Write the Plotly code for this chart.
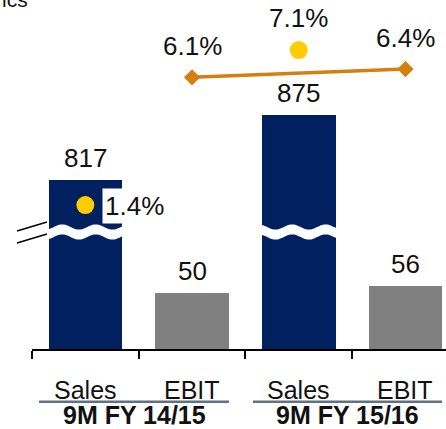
import numpy as np
import plotly.graph_objects as go

# ---- data -------------------------------------------------------------
categories = ["Sales", "EBIT", "Sales", "EBIT"]
periods = ["9M FY 14/15", "9M FY 15/16"]
sales = [817, 875]
ebit = [50, 56]
ebit_margin = [6.1, 6.4]      # % EBIT margin (orange line)
sales_growth = [1.4, 7.1]     # % markers on the sales bars

AXIS_BREAK = 667              # units removed by the broken value axis on sales bars
BREAK_AT = 104                # displayed level of the wavy break

# ---- styling ------------------------------------------------------------
NAVY = "#002060"
GREY = "#808080"
ORANGE = "#D4800F"
YELLOW = "#FFCC00"
RULE = "#5F7282"
INK = "#111111"
FONT = "Liberation Sans, Arial, sans-serif"
FS = 26
FS_AXIS = 25

W, H = 446, 429
ML, MB = 32, 80
PLOT_H = H - MB
PX_PER_UNIT = 1.125           # value axis scale
PX_PER_PCT = 27.2             # percentage axis scale
PCT_ZERO_PX = 243.2           # pixel row of 0 % on the percentage axis
BAR_W = 0.69


def paper_y(py):
    return (PLOT_H - py) / PLOT_H


def paper_x(px):
    return (px - ML) / (W - ML)


x_sales = [0, 2]
x_ebit = [1, 3]
bar_x = [0, 1, 2, 3]
bar_vals = [sales[0], ebit[0], sales[1], ebit[1]]
bar_shown = [sales[0] - AXIS_BREAK, ebit[0], sales[1] - AXIS_BREAK, ebit[1]]
bar_cols = [NAVY, GREY, NAVY, GREY]

fig = go.Figure()

fig.add_trace(go.Bar(
    x=bar_x, y=bar_shown, width=BAR_W,
    marker=dict(color=bar_cols, line=dict(width=0)),
    hoverinfo="skip", showlegend=False,
))

fig.add_trace(go.Scatter(
    x=x_ebit, y=ebit_margin, yaxis="y2", mode="lines+markers",
    line=dict(color=ORANGE, width=3.5),
    marker=dict(symbol="diamond", size=12.5, color=ORANGE),
    hoverinfo="skip", showlegend=False,
))

fig.add_trace(go.Scatter(
    x=x_sales, y=sales_growth, yaxis="y2", mode="markers",
    marker=dict(size=18, color=YELLOW, line=dict(width=0)),
    hoverinfo="skip", showlegend=False,
))

annotations = []
font = dict(family=FONT, size=FS, color=INK)
axis_font = dict(family=FONT, size=FS_AXIS, color=INK)

# value labels above the bars
for x, shown, val in zip(bar_x, bar_shown, bar_vals):
    annotations.append(dict(
        x=x, y=shown, xref="x", yref="y", text=str(val), showarrow=False,
        yanchor="middle", yshift=22, font=font,
    ))

# EBIT margin labels
for x, v in zip(x_ebit, ebit_margin):
    annotations.append(dict(
        x=x, y=v, xref="x", yref="y2", text=f"{v}%", showarrow=False,
        yanchor="middle", yshift=31, font=font,
    ))

# growth labels
annotations.append(dict(
    x=x_sales[1], y=sales_growth[1], xref="x", yref="y2",
    text=f"{sales_growth[1]}%", showarrow=False,
    yanchor="middle", yshift=32, font=font,
))
annotations.append(dict(
    x=x_sales[0], y=sales_growth[0], xref="x", yref="y2",
    text=f"{sales_growth[0]}%", showarrow=False,
    xanchor="left", xshift=17, yanchor="middle", yshift=-1,
    bgcolor="white", borderpad=2, font=font,
))

# category labels
for x, c in zip(bar_x, categories):
    annotations.append(dict(
        x=x, y=paper_y(390), xref="x", yref="paper", text=c, showarrow=False,
        yanchor="middle", font=axis_font,
    ))

# period labels and rules
rule_spans = [(-0.434, 1.346), (1.571, 3.343)]
shapes = []
for (x0, x1), p in zip(rule_spans, periods):
    annotations.append(dict(
        x=(x0 + x1) / 2, y=paper_y(415), xref="x", yref="paper",
        text=f"<b>{p}</b>", showarrow=False, yanchor="middle", font=axis_font,
    ))
    shapes.append(dict(
        type="line", xref="x", yref="paper", x0=x0, x1=x1,
        y0=paper_y(401.7), y1=paper_y(401.7),
        line=dict(color=RULE, width=2.5),
    ))

# title fragment at the top-left edge
annotations.append(dict(
    x=paper_x(0), y=paper_y(13), xref="paper", yref="paper", text="ics",
    showarrow=False, xanchor="left", yanchor="bottom",
    font=dict(family=FONT, size=21, color=INK),
))


# wavy white band marking the axis break on each sales bar
def wave_band(xc, phase):
    half = BAR_W / 2 + 0.02
    xs = np.linspace(xc - half, xc + half, 80)
    t = (xs - (xc - BAR_W / 2)) / BAR_W
    amp = 2.6 / PX_PER_UNIT
    thick = 10 / PX_PER_UNIT
    w = amp * np.sin(2 * np.pi * 2.2 * t + phase)
    top = BREAK_AT + thick / 2 + w
    bot = BREAK_AT - thick / 2 + w
    pts = list(zip(xs, top)) + list(zip(xs[::-1], bot[::-1]))
    return "M " + " L ".join(f"{x:.4f},{y:.3f}" for x, y in pts) + " Z"


for xc, ph in zip(x_sales, [-0.99, -4.10]):
    shapes.append(dict(
        type="path", xref="x", yref="y", path=wave_band(xc, ph),
        fillcolor="white", line=dict(width=0), layer="above",
    ))

# break marks on the left of the value axis
for off in (0, 12):
    shapes.append(dict(
        type="line", xref="paper", yref="y",
        x0=paper_x(17), x1=paper_x(47),
        y0=(PLOT_H - (231 + off)) / PX_PER_UNIT,
        y1=(PLOT_H - (222 + off)) / PX_PER_UNIT,
        line=dict(color="black", width=1.5),
    ))

x_right = -0.5 + (W - ML) / 106.7

fig.update_layout(
    width=W, height=H,
    margin=dict(l=ML, r=0, t=0, b=MB, pad=0),
    paper_bgcolor="white", plot_bgcolor="white",
    showlegend=False, bargap=0,
    font=dict(family=FONT, size=FS, color=INK),
    xaxis=dict(
        range=[-0.5, x_right], tickvals=[-0.5, 0.5, 1.5, 2.5],
        ticks="outside", ticklen=8, tickwidth=1.5, tickcolor="black",
        showticklabels=False, showline=True, linecolor="black", linewidth=1.5,
        showgrid=False, zeroline=False, fixedrange=True,
    ),
    yaxis=dict(
        range=[0, PLOT_H / PX_PER_UNIT], visible=False, fixedrange=True,
    ),
    yaxis2=dict(
        range=[(PCT_ZERO_PX - PLOT_H) / PX_PER_PCT, PCT_ZERO_PX / PX_PER_PCT],
        overlaying="y", visible=False, fixedrange=True,
    ),
    annotations=annotations,
    shapes=shapes,
)

fig.write_html("out.html", config={"displayModeBar": False})
